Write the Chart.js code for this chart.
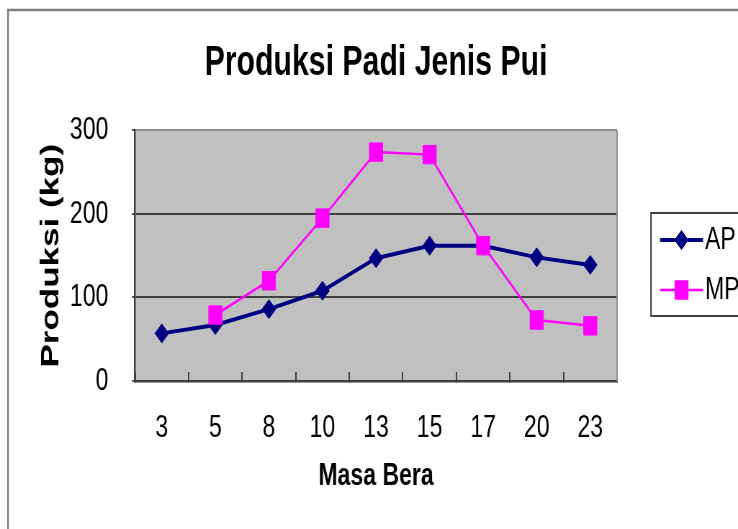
<!DOCTYPE html>
<html>
<head>
<meta charset="utf-8">
<script src="https://cdn.jsdelivr.net/npm/chart.js@4.4.1/dist/chart.umd.min.js"></script>
<style>
  html, body { margin: 0; padding: 0; background: #fff; overflow: hidden; }
  #chart { display: block; }
</style>
</head>
<body>
<canvas id="chart" width="1025" height="529" style="width:738px;height:529px"></canvas>
<script>
const categories = ['3', '5', '8', '10', '13', '15', '17', '20', '23']
const apValues = [57, 67, 86, 108, 147, 162, 162, 148, 139]
const mpValues = [null, 79, 120, 195, 274, 271, 162, 73, 66]
const seriesNames = ['AP', 'MP']
const yMin = 0
const yMax = 300
const yStep = 100

// the picture is squeezed sideways, so draw wide and let css squash it
const squeeze = 738 / 1025
const font = "'Liberation Sans', Arial, sans-serif"
const dark = '#404040'

const background = {
  id: 'background',
  beforeDraw: chart => {
    const { ctx, chartArea: a } = chart
    ctx.save()
    ctx.fillStyle = '#fff'
    ctx.fillRect(0, 0, chart.width, chart.height)
    ctx.strokeStyle = '#808080'
    ctx.lineWidth = 2.5
    ctx.strokeRect(8 / squeeze, 10, chart.width + 20, chart.height + 20)
    ctx.fillStyle = '#c0c0c0'
    ctx.fillRect(a.left, a.top, a.right - a.left, a.bottom - a.top)
    ctx.restore()
  },
  beforeDatasetsDraw: chart => {
    const { ctx, chartArea: a } = chart
    ctx.save()
    ctx.strokeStyle = '#8c8c8c'
    ctx.lineWidth = 2
    ctx.beginPath()
    ctx.moveTo(a.right, a.top)
    ctx.lineTo(a.right, a.bottom)
    ctx.stroke()
    ctx.restore()
  }
}

const lineLegend = {
  id: 'lineLegend',
  afterDraw: chart => {
    const { ctx } = chart
    const boxLeft = 651 / squeeze
    ctx.save()
    ctx.strokeStyle = dark
    ctx.lineWidth = 2
    ctx.strokeRect(boxLeft, 213, 200, 103)
    chart.data.datasets.forEach((ds, i) => {
      const y = [240, 290][i]
      const x0 = 660 / squeeze
      const x1 = 703 / squeeze
      ctx.strokeStyle = ds.borderColor
      ctx.lineWidth = ds.borderWidth
      ctx.beginPath()
      ctx.moveTo(x0, y)
      ctx.lineTo(x1, y)
      ctx.stroke()
      ctx.fillStyle = ds.pointBackgroundColor
      ctx.strokeStyle = ds.pointBorderColor
      ctx.lineWidth = 1
      Chart.helpers.drawPoint(ctx, {
        pointStyle: ds.pointStyle,
        radius: ds.pointRadius,
        rotation: 0,
        borderWidth: 1
      }, (x0 + x1) / 2, y)
      ctx.fillStyle = '#000'
      ctx.font = '32px ' + font
      ctx.textBaseline = 'middle'
      ctx.fillText(ds.label, 705 / squeeze, y)
    })
    ctx.restore()
  }
}

const context = document.getElementById('chart')
const chart = new Chart(context, {
  type: 'line',
  data: {
    labels: categories,
    datasets: [
      {
        label: seriesNames[0],
        data: apValues,
        borderColor: '#000080',
        borderWidth: 4,
        pointStyle: 'rectRot',
        pointRadius: 9.5,
        pointBackgroundColor: '#000080',
        pointBorderColor: '#000080',
        pointBorderWidth: 1,
        tension: 0,
        order: 1
      },
      {
        label: seriesNames[1],
        data: mpValues,
        borderColor: '#ff00ff',
        borderWidth: 2.5,
        pointStyle: 'rect',
        pointRadius: 13,
        pointBackgroundColor: '#ff00ff',
        pointBorderColor: '#ff00ff',
        pointBorderWidth: 1,
        tension: 0,
        order: 0
      }
    ]
  },
  options: {
    responsive: false,
    animation: false,
    devicePixelRatio: 1,
    layout: { padding: { left: 0, right: 168, top: 0, bottom: 0 } },
    plugins: {
      legend: { display: false },
      tooltip: { enabled: false },
      title: {
        display: true,
        fullSize: false,
        text: 'Produksi Padi Jenis Pui',
        color: '#000',
        font: { family: font, size: 42, weight: 'bold' },
        padding: { top: 38, bottom: 42 }
      }
    },
    scales: {
      x: {
        offset: true,
        afterFit: scale => { scale.height = 148 },
        grid: {
          offset: true,
          drawOnChartArea: false,
          tickLength: -9,
          color: dark,
          lineWidth: 2
        },
        border: { color: dark, width: 2.5 },
        ticks: {
          color: '#000',
          font: { family: font, size: 32 },
          padding: 37,
          maxRotation: 0
        },
        title: {
          display: true,
          text: 'Masa Bera',
          color: '#000',
          font: { family: font, size: 32, weight: 'bold' },
          padding: { top: 0, bottom: 34 }
        }
      },
      y: {
        min: yMin,
        max: yMax,
        afterFit: scale => { scale.width = 187.5 },
        grid: {
          color: ctx => (ctx.tick && ctx.tick.value === yMax ? '#8c8c8c' : dark),
          tickColor: dark,
          lineWidth: 2,
          tickLength: 4
        },
        border: { color: dark, width: 2.5 },
        ticks: {
          stepSize: yStep,
          color: '#000',
          font: { family: font, size: 32 },
          padding: 33
        },
        title: {
          display: true,
          text: 'Produksi (kg)',
          color: '#000',
          font: { family: font, size: 35, weight: 'bold' },
          padding: { top: 50, bottom: 0 }
        }
      }
    }
  },
  plugins: [background, lineLegend]
})
</script>
</body>
</html>
